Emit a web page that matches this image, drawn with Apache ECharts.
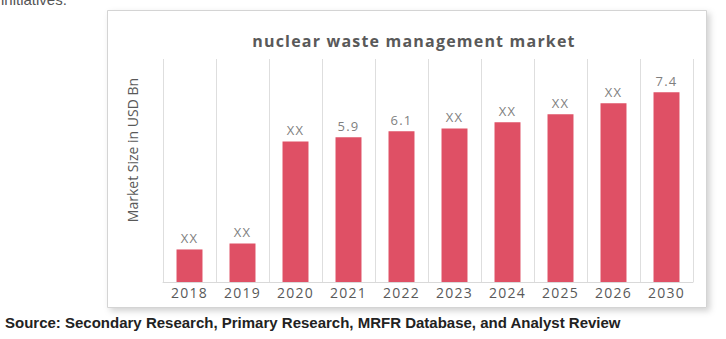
<!DOCTYPE html>
<html>
<head>
<meta charset="utf-8">
<script src="https://cdn.jsdelivr.net/npm/echarts@6/dist/echarts.min.js"></script>
<style>
  html, body { margin: 0; padding: 0; background: #ffffff; }
  #chart { width: 726px; height: 339px; }
  #chart svg text[style*="Open Sans"] { letter-spacing: 1.2px; }
</style>
</head>
<body>
<div id="chart"></div>
<script>
// ---- data ----
const categories = ['2018', '2019', '2020', '2021', '2022', '2023', '2024', '2025', '2026', '2030'];
const marketValues = [2.18, 2.38, 5.76, 5.9, 6.1, 6.19, 6.4, 6.67, 7.03, 7.4];
const valueLabels = ['XX', 'XX', 'XX', '5.9', '6.1', 'XX', 'XX', 'XX', 'XX', '7.4'];
const chartTitle = 'nuclear waste management market';
const yAxisTitle = 'Market Size in USD Bn';
const sourceNote = 'Source: Secondary Research, Primary Research, MRFR Database, and Analyst Review';
const topNote = 'initiatives.';

const chart = echarts.init(document.getElementById('chart'), null, { renderer: 'svg' });

const option = {
  animation: false,
  backgroundColor: '#ffffff',
  title: {
    text: chartTitle,
    left: 409,
    textAlign: 'center',
    top: 28,
    textStyle: {
      fontFamily: 'Open Sans',
      fontSize: 16,
      fontWeight: 'bold',
      color: '#595959'
    }
  },
  graphic: [
    {
      type: 'rect',
      z: -10,
      shape: { x: 107.5, y: 10.5, width: 599, height: 297 },
      style: {
        fill: '#ffffff',
        stroke: '#d4d4d4',
        lineWidth: 1,
        shadowBlur: 6,
        shadowOffsetX: 3,
        shadowOffsetY: 3,
        shadowColor: 'rgba(0,0,0,0.18)'
      }
    },
    {
      type: 'text',
      x: 132,
      y: 150,
      rotation: Math.PI / 2,
      style: {
        text: yAxisTitle,
        fontFamily: 'open sans',
        fontSize: 14,
        fill: '#595959',
        align: 'center',
        verticalAlign: 'middle'
      }
    },
    {
      type: 'text',
      x: 5,
      y: 322,
      style: {
        text: sourceNote,
        fontFamily: 'Liberation Sans',
        fontWeight: 'bold',
        fontSize: 15,
        fill: '#222222',
        align: 'left',
        verticalAlign: 'middle'
      }
    },
    {
      type: 'text',
      x: 1,
      y: 7,
      style: {
        text: topNote,
        fontFamily: 'Liberation Sans',
        fontSize: 15,
        fill: '#555555',
        align: 'left',
        verticalAlign: 'bottom'
      }
    }
  ],
  grid: {
    left: 163,
    right: 33,
    top: 59,
    bottom: 57,
    containLabel: false
  },
  xAxis: {
    type: 'category',
    data: categories,
    boundaryGap: true,
    axisLine: { show: true, lineStyle: { color: '#d9d9d9', width: 1 } },
    axisTick: { show: false },
    splitLine: { show: true, lineStyle: { color: '#dedede', width: 1 } },
    axisLabel: {
      fontFamily: 'Open Sans',
      fontSize: 14,
      color: '#595959',
      margin: 3
    }
  },
  yAxis: {
    type: 'value',
    min: 1.1,
    max: 8.5,
    show: false,
    splitLine: { show: false }
  },
  series: [
    {
      type: 'bar',
      data: marketValues,
      barWidth: '49%',
      itemStyle: { color: '#df5065' },
      label: {
        show: true,
        position: 'top',
        distance: 5,
        fontFamily: 'Open Sans',
        fontSize: 13,
        color: '#7f7f7f',
        formatter: function (p) { return valueLabels[p.dataIndex]; }
      }
    }
  ]
};

chart.setOption(option);
</script>
</body>
</html>
